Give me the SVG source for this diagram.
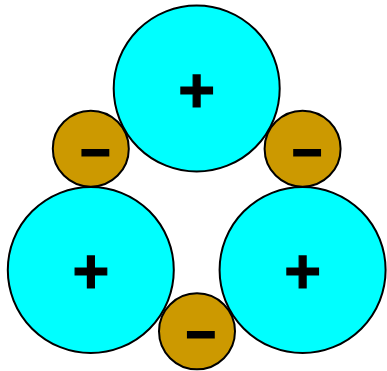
<svg xmlns="http://www.w3.org/2000/svg" width="387" height="371" viewBox="0 0 387 371">
<style>
.big{fill:#00FFFF;stroke:#000;stroke-width:2}
.small{fill:#CC9900;stroke:#000;stroke-width:2}
.t{font-family:"Liberation Sans",Arial,sans-serif;font-weight:bold;fill:#000;stroke:#000;text-anchor:middle}
.p{font-size:63px;stroke-width:1.2}
.m{font-size:52px;stroke-width:1.8}
</style>
<rect width="387" height="371" fill="#fff"/>
<g id="cation-top"><circle class="big" cx="196.7" cy="88.5" r="83"/><text class="t p" x="196.7" y="111.6">+</text></g>
<g id="cation-left"><circle class="big" cx="90.8" cy="270" r="83"/><text class="t p" x="90.8" y="292.6">+</text></g>
<g id="cation-right"><circle class="big" cx="302.6" cy="270" r="83"/><text class="t p" x="302.6" y="292.6">+</text></g>
<g id="anion-left"><circle class="small" cx="90.8" cy="148.7" r="38"/><text class="t m" x="95.5" y="170.3">−</text></g>
<g id="anion-right"><circle class="small" cx="302.6" cy="148.7" r="38"/><text class="t m" x="307.3" y="170.3">−</text></g>
<g id="anion-bottom"><circle class="small" cx="197" cy="331.3" r="38"/><text class="t m" x="201" y="352">−</text></g>
<g id="connectors"></g>
</svg>
